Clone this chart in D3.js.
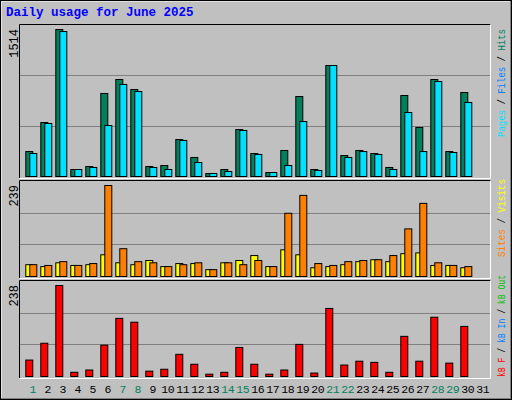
<!DOCTYPE html><html><head><meta charset="utf-8">
<script src="https://cdn.jsdelivr.net/npm/d3@7"></script>
<style>body{margin:0;background:#fff}text{font-family:"Liberation Mono","DejaVu Sans Mono",monospace}</style></head><body>
<svg id="c" width="512" height="400"></svg>
<script>
const days=d3.range(1,32);
const weekend=[1,7,8,14,15,21,22,28,29];
const hits=[257,556,1514,72,103,855,999,896,103,113,381,196,31,72,484,237,41,268,824,72,1143,216,268,237,93,834,505,999,257,865];
const files=[237,546,1493,72,93,525,948,875,93,72,371,144,31,51,474,227,41,113,566,62,1143,196,257,227,72,659,257,978,247,762];
const visits=[31,26,36,29,31,57,36,31,42,26,34,34,18,36,42,55,26,70,57,23,26,31,39,44,39,60,62,29,29,23];
const sites=[31,29,39,29,34,239,73,39,36,26,31,36,18,36,31,42,26,166,213,34,29,39,42,44,55,125,192,36,29,26];
const kbF=[43,87,238,11,17,82,152,142,14,19,58,32,6,11,76,32,6,17,84,9,178,30,40,37,11,105,40,155,35,131];
const svg=d3.select("#c");
svg.append("rect").attr("x",0).attr("y",0).attr("width",512).attr("height",400).attr("fill","#c0c0c0");
svg.append("path").attr("d","M0.5,399.5V0.5H511.5").attr("stroke","#fff").attr("stroke-width",2).attr("fill","none");
svg.append("path").attr("d","M1,399H511V1").attr("stroke","#808080").attr("stroke-width",2).attr("fill","none");
svg.append("rect").attr("x",0.5).attr("y",0.5).attr("width",511).attr("height",399).attr("fill","none").attr("stroke","#000");
svg.append("text").attr("x",6).attr("y",16).attr("fill","#0000ff").attr("font-weight","bold").attr("font-size",12.5).text("Daily usage for June 2025");
const x=d3.scaleLinear().domain([1,32]).range([25.3,490.3]);
const L=20,R=490;
function panel(top,base,maxv,label){
  svg.append("rect").attr("x",L).attr("y",top).attr("width",R-L).attr("height",base-top+1).attr("fill","#c0c0c0");
  const y=d3.scaleLinear().domain([0,maxv]).range([base,top+4]);
  [1/3,2/3].forEach(f=>svg.append("line").attr("x1",L).attr("x2",R).attr("y1",Math.round(base-(base-top)*f)+0.5).attr("y2",Math.round(base-(base-top)*f)+0.5).attr("stroke","#808080"));
  svg.append("text").attr("transform",`translate(18,${top+4}) rotate(-90)`).attr("text-anchor","end").attr("font-size",12).attr("fill","#000").text(label);
  return y;
}
function border(top,base){
  svg.append("path").attr("d",`M${L-0.5},${base+1}V${top-0.5}H${R+0.5}`).attr("stroke","#000").attr("fill","none");
  svg.append("path").attr("d",`M${L-0.5},${base+1.5}H${R+0.5}V${top-0.5}`).attr("stroke","#fff").attr("fill","none");
}
function bars(y,data,dx,w,color){
  svg.append("g").selectAll("rect").data(data).join("rect")
   .attr("x",(d,i)=>x(i+1)+dx+0.5).attr("y",d=>y(d)+0.5).attr("width",w).attr("height",d=>y(0)-y(d))
   .attr("fill",color).attr("stroke","#000");
}
let y1=panel(25,176,1514,"1514");
bars(y1,hits,0,7,"#00805c");bars(y1,files,4,7,"#00e0ff");
border(25,177);
let y2=panel(181,276,239,"239");
bars(y2,visits,0,7,"#ffff00");bars(y2,sites,4,7,"#ff8000");
border(181,277);
let y3=panel(281,376,238,"238");
bars(y3,kbF,0,7,"#ff0000");
border(281,377);
svg.append("g").selectAll("text").data(days).join("text").attr("x",d=>x(d)+7.5).attr("y",393).attr("text-anchor","middle").attr("font-size",11.5).attr("letter-spacing",-0.3)
 .attr("fill",d=>weekend.includes(d)?"#00805c":"#000").text(d=>d);
function legend(yStart,len,parts){
  const t=svg.append("text").attr("transform",`translate(505,${yStart}) rotate(-90)`).attr("font-size",10).attr("textLength",len).attr("lengthAdjust","spacingAndGlyphs");
  parts.forEach(p=>t.append("tspan").attr("fill",p[1]).text(p[0]));
}
legend(137,108,[["Pages","#00e0ff"],[" / ","#000"],["Files","#0080ff"],[" / ","#000"],["Hits","#00805c"]]);
legend(257,78,[["Sites","#ff8000"],[" / ","#000"],["Visits","#ffff00"]]);
legend(377,102,[["kB F","#ff0000"],[" / ","#000"],["kB In","#0080ff"],[" / ","#000"],["kB Out","#00c000"]]);
</script></body></html>
